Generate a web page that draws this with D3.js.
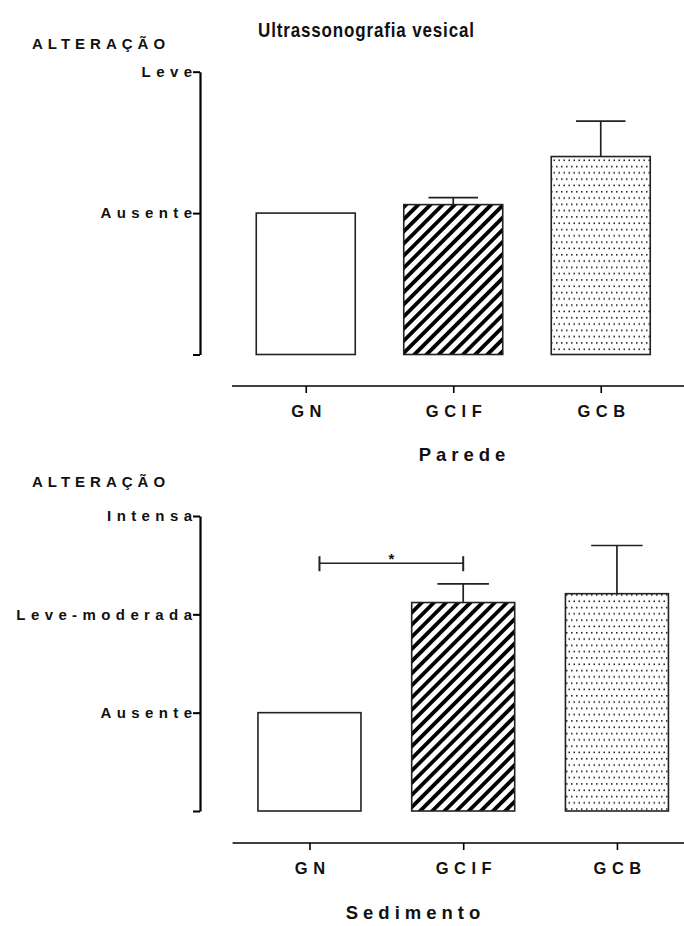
<!DOCTYPE html>
<html>
<head>
<meta charset="utf-8">
<script src="https://cdn.jsdelivr.net/npm/d3@7"></script>
<style>
  html, body { margin: 0; padding: 0; background: #fff; }
  svg { display: block; }
  text { font-family: "Liberation Sans", Arial, sans-serif; font-weight: bold; fill: #111; }
</style>
</head>
<body>
<svg id="chart" width="684" height="926"></svg>
<script>
// Groups shown on both panels
const categories = ["GN", "GCIF", "GCB"];

// Bladder wall (Parede): mean score and upper error (mean + SEM)
const paredeMeans = [1.0, 1.06, 1.40];
const paredeUpper = [1.0, 1.11, 1.65];
const paredeTickValues = [0, 1, 2];
const paredeTickLabels = ["", "Ausente", "Leve"];

// Sediment (Sedimento): mean score and upper error (mean + SEM)
const sedimentoMeans = [1.0, 2.12, 2.21];
const sedimentoUpper = [1.0, 2.31, 2.70];
const sedimentoTickValues = [0, 1, 2, 3];
const sedimentoTickLabels = ["", "Ausente", "Leve-moderada", "Intensa"];

// Significant comparison on the sediment panel
const sigPair = ["GN", "GCIF"];
const sigLevel = 2.52;
const sigMark = "*";

const FONT = "'Liberation Sans', Arial, sans-serif";

const svg = d3.select("#chart");
const defs = svg.append("defs");

// Diagonal hatch for GCIF
const hatch = defs.append("pattern")
  .attr("id", "hatch")
  .attr("patternUnits", "userSpaceOnUse")
  .attr("width", 8.6).attr("height", 8.6)
  .attr("patternTransform", "rotate(45)");
hatch.append("rect").attr("width", 8.6).attr("height", 8.6).attr("fill", "#fff");
hatch.append("rect").attr("x", 0).attr("width", 3.8).attr("height", 8.6).attr("fill", "#000");

// Fine dots for GCB
const dots = defs.append("pattern")
  .attr("id", "dots")
  .attr("patternUnits", "userSpaceOnUse")
  .attr("width", 10).attr("height", 12.6);
dots.append("rect").attr("width", 10).attr("height", 12.6).attr("fill", "#fff");
[[1, 2], [6, 2], [3.5, 8.3], [8.5, 8.3]].forEach(([dx, dy]) =>
  dots.append("rect").attr("x", dx).attr("y", dy)
    .attr("width", 1.5).attr("height", 1.5).attr("fill", "#111"));

const fills = { GN: "#fff", GCIF: "url(#hatch)", GCB: "url(#dots)" };

// Title, slightly condensed horizontally
const titleSX = 0.85, titleX = 366;
svg.append("text")
  .attr("x", titleX / titleSX).attr("y", 37)
  .attr("transform", `scale(${titleSX},1)`)
  .attr("text-anchor", "middle")
  .attr("dx", "0.5px")
  .style("font-size", "20px")
  .style("letter-spacing", "1px")
  .text("Ultrassonografia vesical");

const LS = 5.4; // letter spacing of y-axis labels

function styleText(sel, size, ls) {
  sel.attr("fill", "#111")
    .style("font-family", FONT)
    .style("font-weight", "bold")
    .style("font-size", size + "px")
    .style("letter-spacing", ls + "px");
}

function panel(cfg) {
  const g = svg.append("g");
  const y = d3.scaleLinear().domain(cfg.yDomain).range(cfg.yRange);
  const x = d3.scalePoint().domain(categories).range(cfg.xRange).padding(0.5);

  // y-axis title
  g.append("text")
    .attr("x", 32).attr("y", cfg.yTitleY)
    .call(styleText, 15, 5)
    .text("ALTERAÇÃO");

  // y axis
  const yAxis = g.append("g")
    .attr("transform", `translate(${cfg.yAxisX},0)`)
    .call(d3.axisLeft(y)
      .tickValues(cfg.tickValues)
      .tickFormat((d, i) => cfg.tickLabels[i])
      .tickSize(7).tickSizeOuter(0).tickPadding(1 - LS));
  yAxis.select(".domain").attr("stroke", "#000").attr("stroke-width", 2.2);
  yAxis.selectAll(".tick line").attr("stroke", "#000").attr("stroke-width", 2);
  yAxis.selectAll(".tick text").call(styleText, 15, LS);

  // x axis
  const xAxisG = g.append("g")
    .attr("transform", `translate(0,${cfg.xAxisY})`)
    .call(d3.axisBottom(x).tickSize(7).tickSizeOuter(0).tickPadding(12));
  xAxisG.select(".domain").attr("d", `M${cfg.xRange[0]},0H684`).attr("stroke", "#000").attr("stroke-width", 1.6);
  xAxisG.selectAll(".tick line").attr("stroke", "#000").attr("stroke-width", 1.6);
  xAxisG.selectAll(".tick text").call(styleText, 16.5, 5.5).attr("dx", "2.75px");

  // x-axis title
  g.append("text")
    .attr("x", cfg.xTitleX).attr("y", cfg.xTitleY)
    .attr("text-anchor", "middle")
    .attr("dx", "2.5px")
    .call(styleText, 18.5, 5)
    .text(cfg.xTitle);

  const bw = cfg.barWidth;
  const rows = categories.map((c, i) => ({ c, mean: cfg.means[i], upper: cfg.upper[i] }));

  // error bars (upper only)
  const err = g.append("g").selectAll("g").data(rows.filter(d => d.upper > d.mean)).join("g");
  err.append("line")
    .attr("x1", d => x(d.c)).attr("x2", d => x(d.c))
    .attr("y1", d => y(d.mean)).attr("y2", d => y(d.upper))
    .attr("stroke", "#222").attr("stroke-width", 1.7);
  err.append("line")
    .attr("x1", d => x(d.c) - bw / 4).attr("x2", d => x(d.c) + bw / 4)
    .attr("y1", d => y(d.upper)).attr("y2", d => y(d.upper))
    .attr("stroke", "#222").attr("stroke-width", 1.7);

  // bars
  g.append("g").selectAll("rect").data(rows).join("rect")
    .attr("x", d => x(d.c) - bw / 2)
    .attr("width", bw)
    .attr("y", d => y(d.mean))
    .attr("height", d => y(0) - y(d.mean))
    .attr("fill", d => fills[d.c])
    .attr("stroke", "#222").attr("stroke-width", 1.6);

  return { g, x, y };
}

panel({
  yDomain: [0, 2], yRange: [354.5, 71.7],
  xRange: [232, 674.5], barWidth: 99,
  yAxisX: 200, xAxisY: 386,
  tickValues: paredeTickValues, tickLabels: paredeTickLabels,
  means: paredeMeans, upper: paredeUpper,
  yTitleY: 49, xTitle: "Parede", xTitleX: 462, xTitleY: 461
});

const sed = panel({
  yDomain: [0, 3], yRange: [811, 516],
  xRange: [232.6, 693.8], barWidth: 103,
  yAxisX: 200, xAxisY: 843,
  tickValues: sedimentoTickValues, tickLabels: sedimentoTickLabels,
  means: sedimentoMeans, upper: sedimentoUpper,
  yTitleY: 487, xTitle: "Sedimento", xTitleX: 413, xTitleY: 919
});

// significance bracket
const bx0 = sed.x(sigPair[0]) + 10, bx1 = sed.x(sigPair[1]), by = sed.y(sigLevel);
const br = sed.g.append("g");
br.append("line").attr("x1", bx0).attr("x2", bx1).attr("y1", by).attr("y2", by)
  .attr("stroke", "#222").attr("stroke-width", 1.5);
[bx0, bx1].forEach(bx => br.append("line")
  .attr("x1", bx).attr("x2", bx).attr("y1", by - 7).attr("y2", by + 8)
  .attr("stroke", "#222").attr("stroke-width", 2));
br.append("text")
  .attr("x", (bx0 + bx1) / 2).attr("y", by + 1)
  .attr("text-anchor", "middle")
  .style("font-family", FONT)
  .style("font-size", "15px")
  .text(sigMark);
</script>
</body>
</html>
